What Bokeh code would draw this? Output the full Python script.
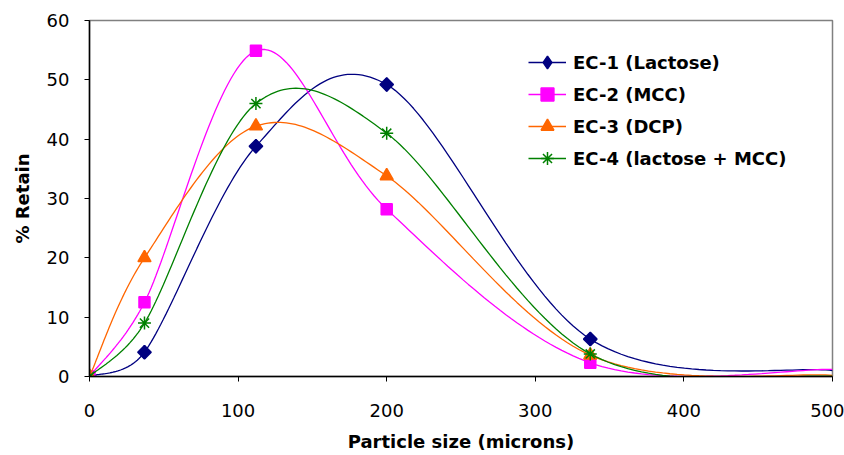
import numpy as np
from bokeh.plotting import figure
from bokeh.models import Range1d, ColumnDataSource
from bokeh.embed import file_html
from bokeh.resources import INLINE

# ---- data ----
sizes = [0, 37, 112, 200, 337, 500]
ec1 = [0, 4.1, 38.8, 49.2, 6.3, 1.0]
ec2 = [0, 12.5, 54.9, 28.2, 2.3, 1.2]
ec3 = [0, 20.0, 42.2, 33.8, 3.6, 0.2]
ec4 = [0, 9.0, 46.0, 41.0, 3.8, 0.0]
names = ["EC-1 (Lactose)", "EC-2 (MCC)", "EC-3 (DCP)", "EC-4 (lactose + MCC)"]
colors = ["#000080", "#FF00FF", "#FF6600", "#008000"]
markers = ["diamond", "square", "triangle", "asterisk"]
msizes = [13, 11, 13, 13]
x_ticks = [0, 100, 200, 300, 400, 500]
y_ticks = [0, 10, 20, 30, 40, 50, 60]

# layout (pixels)
W, H = 844, 455
BL, BR, BT, BB = 89, 12, 20, 79
FW, FH = W - BL - BR, H - BT - BB
XMAX, YMAX = 500.0, 60.0


def smooth(xs, ys, n=40):
    """Excel-like smoothed line: Bezier segments, handles limited to half a segment."""
    kx, ky = FW / XMAX, FH / YMAX
    P = np.column_stack([np.array(xs) * kx, np.array(ys) * ky]).astype(float)
    out = [P[0]]
    for i in range(len(P) - 1):
        p0 = P[i - 1] if i > 0 else P[i]
        p1, p2 = P[i], P[i + 1]
        p3 = P[i + 2] if i + 2 < len(P) else P[i + 1]
        d12 = np.linalg.norm(p2 - p1)
        v1 = p2 - p0
        v2 = p3 - p1
        n1, n2 = np.linalg.norm(v1), np.linalg.norm(v2)
        h1 = min(n1 / 6.0, d12 / 2.0)
        h2 = min(n2 / 6.0, d12 / 2.0)
        c1 = p1 + (v1 / n1 * h1 if n1 > 0 else 0)
        c2 = p2 - (v2 / n2 * h2 if n2 > 0 else 0)
        t = np.linspace(0, 1, n)[1:, None]
        seg = ((1 - t) ** 3) * p1 + 3 * ((1 - t) ** 2) * t * c1 + 3 * (1 - t) * t ** 2 * c2 + t ** 3 * p2
        out.extend(seg)
    out = np.array(out)
    return out[:, 0] / kx, out[:, 1] / ky


FONT = "DejaVu Sans"

p = figure(width=W, height=H, output_backend="svg", toolbar_location=None,
           x_range=Range1d(0, XMAX), y_range=Range1d(0, YMAX),
           min_border_left=BL, min_border_right=BR, min_border_top=BT, min_border_bottom=BB)
p.outline_line_color = "#808080"
p.outline_line_width = 1.5
p.xgrid.visible = False
p.ygrid.visible = False
p.background_fill_color = "white"
p.border_fill_color = "white"

for ys, nm, c, m, ms in zip([ec1, ec2, ec3, ec4], names, colors, markers, msizes):
    sx, sy = smooth(sizes, ys)
    p.line(sx, sy, line_color=c, line_width=1.3, legend_label=nm)
    src = ColumnDataSource(dict(x=sizes[:-1], y=ys[:-1]))
    p.scatter("x", "y", source=src, marker=m, size=ms, fill_color=c, line_color=c,
              line_width=1.5, legend_label=nm)
    if m == "diamond":
        # Excel's diamond is a square turned 45 degrees: overlay it on the plot points
        p.scatter("x", "y", source=src, marker="square", size=9.5, angle=np.pi / 4,
                  fill_color=c, line_color=c, line_width=1.5)

for ax in (p.xaxis[0], p.yaxis[0]):
    ax.axis_line_color = "black"
    ax.axis_line_width = 1.5
    ax.major_tick_line_color = "black"
    ax.major_tick_in = 0
    ax.major_tick_out = 5
    ax.minor_tick_line_color = None
    ax.major_label_text_font = FONT
    ax.major_label_text_font_size = "18px"
    ax.major_label_text_color = "black"
    ax.axis_label_text_font = FONT
    ax.axis_label_text_font_size = "18px"
    ax.axis_label_text_font_style = "bold"
    ax.axis_label_text_color = "black"

p.xaxis.ticker = x_ticks
p.yaxis.ticker = y_ticks
p.xaxis.axis_label = "Particle size (microns)"
p.yaxis.axis_label = "% Retain"
p.xaxis.major_label_standoff = 22
p.yaxis.major_label_standoff = 15
p.xaxis.axis_label_standoff = 11
p.yaxis.axis_label_standoff = 11

lg = p.legend[0]
lg.location = (439, 202)
lg.border_line_color = None
lg.background_fill_alpha = 0
lg.padding = 0
lg.margin = 0
lg.spacing = 0
lg.label_height = 32
lg.glyph_height = 32
lg.glyph_width = 38
lg.label_standoff = 7
lg.label_text_font = FONT
lg.label_text_font_size = "18px"
lg.label_text_font_style = "bold"
lg.label_text_color = "black"

open("out.html", "w").write(file_html(p, INLINE))
